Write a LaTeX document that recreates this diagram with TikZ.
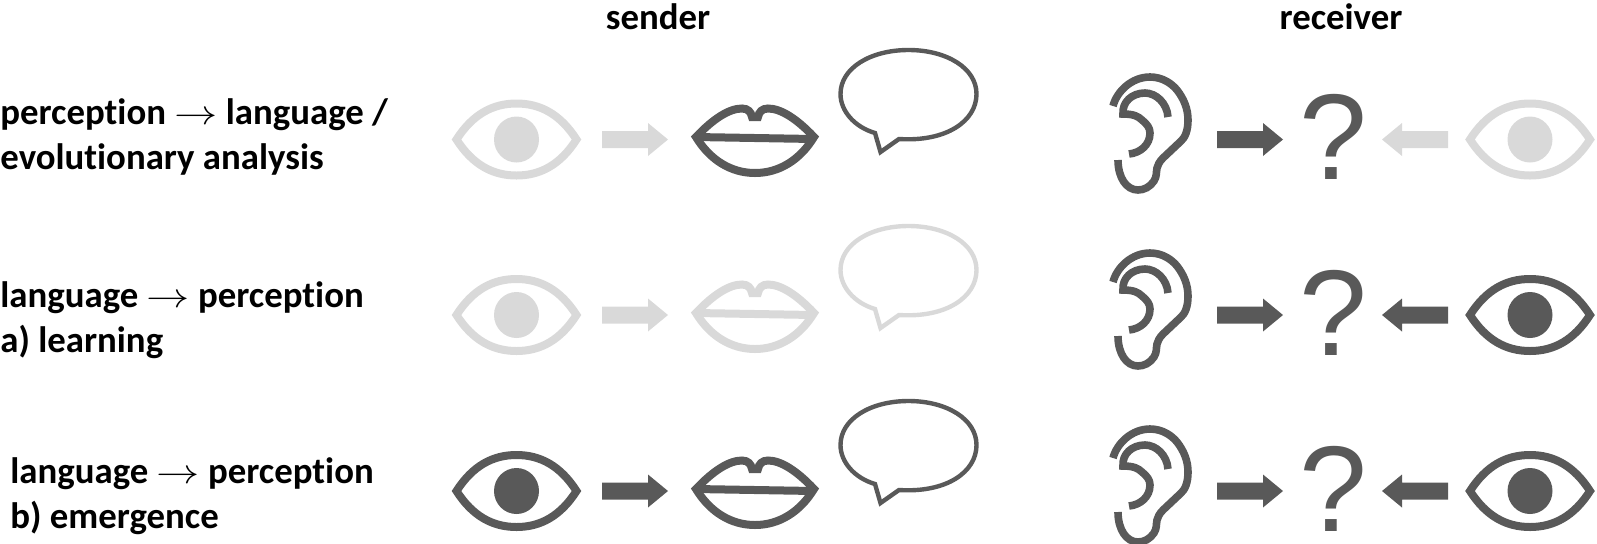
\documentclass[tikz,border=0pt]{standalone}
\usepackage{fontspec}
\setmainfont[Ligatures=NoCommon]{Carlito}
\newfontfamily\qfont{Liberation Sans}
\newcommand{\wideto}{\mathrel{\scalebox{1.25}[1]{$\rightarrow$}}}
\definecolor{darkg}{HTML}{595959}
\definecolor{lightg}{HTML}{D9D9D9}
\tikzset{
  x=0.5pt,y=-0.5pt,
  lbl/.style={anchor=west,inner sep=0pt,align=left,font=\fontsize{18.4}{22.5}\selectfont\bfseries},
  head/.style={inner sep=0pt,font=\fontsize{18.4}{22}\selectfont\bfseries},
  qmark/.style={inner sep=0pt,font=\qfont\fontsize{61}{61}\selectfont},
  pics/eye/.style={code={
    \draw[#1,line width=4pt,line join=miter,miter limit=3] (-60,0) .. controls (-44,-25) and (-24,-36) .. (0,-36) .. controls (24,-36) and (44,-25) .. (60,0) .. controls (44,25) and (24,36) .. (0,36) .. controls (-24,36) and (-44,25) .. (-60,0) -- cycle;
    \fill[#1] (0,0) ellipse [x radius=22.5,y radius=23];
  }},
  pics/lips/.style={code={
    \draw[#1,line width=4pt,line join=miter,miter limit=3] (-59,0) .. controls (-42,-18) and (-26,-28.5) .. (-13,-28.5) .. controls (-7,-28.5) and (-4,-25) .. (-3,-20) -- (3,-20) .. controls (4,-25) and (7,-28.5) .. (13,-28.5) .. controls (26,-28.5) and (42,-18) .. (59,0) .. controls (45,23) and (24,36) .. (0,36) .. controls (-24,36) and (-45,23) .. (-59,0) -- cycle;
    \draw[#1,line width=4pt] (-59,0) -- (59,2);
  }},
  pics/bubble/.style={code={
    \draw[#1,line width=2.2pt,line join=miter] (-33.5,39) -- (-28,58) -- (-9.5,45) .. controls (38,48) and (68,27) .. (68,0) .. controls (68,-26) and (38,-44) .. (0,-44) .. controls (-38,-44) and (-68,-26) .. (-68,0) .. controls (-68,17) and (-54,33) .. (-33.5,39) -- cycle;
  }},
  pics/ear/.style={code={
    \draw[#1,line width=3.8pt] (-37,-29) .. controls (-33,-44) and (-18,-58) .. (0,-58) .. controls (13,-58) and (22,-51) .. (27,-45) .. controls (34,-36) and (38,-26) .. (38,-15) .. controls (38,-4) and (35,3) .. (30,7) -- (13,23) .. controls (9,27) and (8,30) .. (7,33) .. controls (6,38) and (7,41) .. (4,46) .. controls (0,52) and (-6,55) .. (-12,55) .. controls (-24,55) and (-32,42) .. (-32,25);
    \draw[#1,line width=3.8pt] (18,-18) .. controls (17,-32) and (6,-42) .. (-5,-42) .. controls (-18,-42) and (-28,-33) .. (-27,-21) .. controls (-17,-21) and (-12,-19) .. (-8,-15) .. controls (-3,-11) and (0,-7) .. (0,-2) .. controls (0,10) and (-10,18) .. (-21,19);
  }},
  pics/rarrow/.style={code={
    \fill[#1] (-33,-8.5) -- (13,-8.5) -- (13,-16.5) -- (33,0) -- (13,16.5) -- (13,8.5) -- (-33,8.5) -- cycle;
  }},
  pics/larrow/.style={code={
    \fill[#1] (33,-8.5) -- (-13,-8.5) -- (-13,-16.5) -- (-33,0) -- (-13,16.5) -- (-13,8.5) -- (33,8.5) -- cycle;
  }},
}
\begin{document}
\begin{tikzpicture}
\useasboundingbox (0,0) rectangle (1597,543);
\node[head] (sender) at (658,17) {sender};
\node[head] (receiver) at (1341,17) {receiver};
\node[lbl] (l1) at (0,137) {perception $\wideto$ language /\\evolutionary analysis};
\node[lbl] (l2) at (0,320) {language $\wideto$ perception\\a) learning};
\node[lbl] (l3) at (10,496) {language $\wideto$ perception\\b) emergence};
% row 1
\pic (e1) at (516.5,139.5) {eye=lightg};
\pic (a1) at (635,139.5) {rarrow=lightg};
\pic (m1) at (755,137) {lips=darkg};
\pic (b1) at (908.5,94) {bubble=darkg};
\pic (h1) at (1150,135) {ear=darkg};
\pic (c1) at (1250,139.5) {rarrow=darkg};
\node[qmark,text=darkg] (q1) at (1333,137) {?};
\pic (d1) at (1415,139.5) {larrow=lightg};
\pic (f1) at (1530,139.5) {eye=lightg};
% row 2
\pic (e2) at (516.5,315) {eye=lightg};
\pic (a2) at (635,315) {rarrow=lightg};
\pic (m2) at (755,313) {lips=lightg};
\pic (b2) at (908.5,270) {bubble=lightg};
\pic (h2) at (1150,311) {ear=darkg};
\pic (c2) at (1250,315) {rarrow=darkg};
\node[qmark,text=darkg] (q2) at (1333,313) {?};
\pic (d2) at (1415,315) {larrow=darkg};
\pic (f2) at (1530,315) {eye=darkg};
% row 3
\pic (e3) at (516.5,491) {eye=darkg};
\pic (a3) at (635,491) {rarrow=darkg};
\pic (m3) at (755,489) {lips=darkg};
\pic (b3) at (908.5,445) {bubble=darkg};
\pic (h3) at (1150,487) {ear=darkg};
\pic (c3) at (1250,491) {rarrow=darkg};
\node[qmark,text=darkg] (q3) at (1333,489) {?};
\pic (d3) at (1415,491) {larrow=darkg};
\pic (f3) at (1530,491) {eye=darkg};
\end{tikzpicture}
\end{document}
